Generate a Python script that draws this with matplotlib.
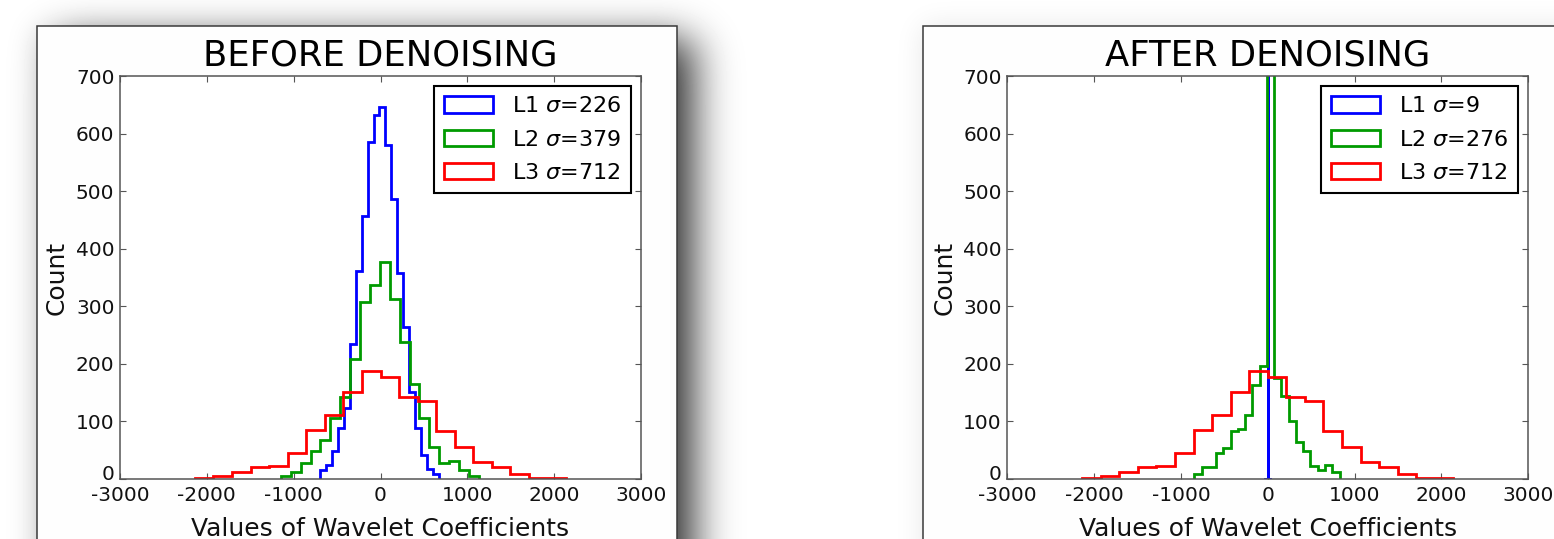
import math
import numpy as np
import matplotlib
matplotlib.use("Agg")
import matplotlib.pyplot as plt
import matplotlib.transforms as mtransforms
from matplotlib.patches import Rectangle

plt.rcParams['font.family'] = ['DejaVu Sans']
plt.rcParams['axes.unicode_minus'] = False
plt.rcParams['mathtext.fontset'] = 'dejavusans'

# histogram counts per level, 20 equal bins over each (lo, hi) range
l1_before = [15, 25, 48, 89, 123, 234, 362, 457, 586, 632,
             646, 581, 486, 358, 264, 152, 88, 42, 17, 9]
l1_before_range = (-692, 668)
l2_before = [5, 12, 27, 48, 68, 106, 143, 209, 307, 338,
             377, 313, 239, 166, 106, 56, 28, 31, 15, 5]
l2_before_range = (-1148, 1132)
l3_counts = [1, 6, 12, 20, 23, 45, 85, 112, 152, 187,
             178, 142, 135, 84, 56, 29, 20, 9, 1, 1]
l3_range = (-2137, 2137)

l1_after = [1, 0, 0, 0, 0, 0, 0, 0, 0, 3,
            5200, 3, 0, 0, 0, 0, 0, 0, 0, 1]
l1_after_range = (-30, 30)
l2_after = [8, 21, 21, 46, 54, 84, 87, 112, 164, 197,
            1194, 176, 145, 101, 65, 48, 23, 16, 25, 12]
l2_after_range = (-847, 826)

sigmas_before = [226, 379, 712]
sigmas_after = [9, 276, 712]
level_names = ['L1', 'L2', 'L3']
level_colors = ['#0000ff', '#009a00', '#ff0000']

x_ticks = [-3000, -2000, -1000, 0, 1000, 2000, 3000]
y_ticks = [0, 100, 200, 300, 400, 500, 600, 700]

W, H = 1554, 539
fig = plt.figure(figsize=(W / 100, H / 100), dpi=100)

# page background: soft halo round both cards, heavy drop shadow right of the first
erf = np.vectorize(math.erf)


def soft_box(x0, x1, y0, y1, s):
    xs = np.arange(W) + 0.5
    ys = np.arange(H) + 0.5
    fx = 0.5 * (erf((xs - x0) / (s * 1.414)) - erf((xs - x1) / (s * 1.414)))
    fy = 0.5 * (erf((ys - y0) / (s * 1.414)) - erf((ys - y1) / (s * 1.414)))
    return np.outer(fy, fx)


shade = np.ones((H, W))
shade -= 0.72 * soft_box(60, 696, 40, 900, 20)
shade -= 0.10 * soft_box(36, 677, 26, 900, 14)
shade -= 0.10 * soft_box(923, 1900, 26, 900, 14)
shade = np.clip(shade, 0, 1)

bg = fig.add_axes([0, 0, 1, 1])
bg.imshow(shade, cmap='gray', vmin=0, vmax=1, extent=(0, W, H, 0),
          aspect='auto', interpolation='bilinear')
for x0, x1 in [(36.5, 677), (922.7, 1700)]:
    bg.add_patch(Rectangle((x0, 25.7), x1 - x0, 600, facecolor='#fefefe',
                           edgecolor='#3a3a3a', linewidth=1.1))
bg.set_xlim(0, W)
bg.set_ylim(H, 0)
bg.axis('off')


def draw_panel(left_px, title, series, sigmas):
    ax = fig.add_axes([left_px / W, (H - 479) / H, 521 / W, 402.7 / H])
    for name, (counts, (lo, hi)), sig, col in zip(level_names, series,
                                                  sigmas, level_colors):
        edges = np.linspace(lo, hi, len(counts) + 1)
        ax.hist(edges[:-1], bins=edges, weights=counts, histtype='step',
                color=col, linewidth=2.0,
                label=name + r' $\sigma$=' + str(sig))
    ax.set_xlim(-3000, 3000)
    ax.set_ylim(0, 700)
    ax.set_xticks(x_ticks)
    ax.set_yticks(y_ticks)
    ax.tick_params(direction='in', top=True, right=True, length=4,
                   width=0.8, color='#555555', labelsize=14.5,
                   labelcolor='#111111')
    ax.tick_params(axis='x', pad=5)
    ax.tick_params(axis='y', pad=4)
    # lift the "0" count label clear of the x tick labels
    zero_lbl = ax.yaxis.get_major_ticks()[0].label1
    zero_lbl.set_transform(zero_lbl.get_transform() +
                           mtransforms.ScaledTranslation(0, 0.06,
                                                         fig.dpi_scale_trans))
    for sp in ax.spines.values():
        sp.set_color('#555555')
        sp.set_linewidth(1.1)
    ax.set_title(title, fontsize=25.5, pad=7.5, color='#000000')
    ax.set_xlabel('Values of Wavelet Coefficients', fontsize=18,
                  labelpad=9, color='#111111')
    ax.set_ylabel('Count', fontsize=18, labelpad=5, color='#111111')
    leg = ax.legend(loc='upper right', fontsize=16, handlelength=2.2,
                    handleheight=0.75, handletextpad=0.85, labelspacing=0.6,
                    borderpad=0.45, borderaxespad=0.45, fancybox=False,
                    framealpha=1, edgecolor='black')
    leg.get_frame().set_linewidth(1.5)
    return ax


draw_panel(120, 'BEFORE DENOISING',
           [(l1_before, l1_before_range), (l2_before, l2_before_range),
            (l3_counts, l3_range)], sigmas_before)
draw_panel(1007.3, 'AFTER DENOISING',
           [(l1_after, l1_after_range), (l2_after, l2_after_range),
            (l3_counts, l3_range)], sigmas_after)

fig.savefig('out.png', dpi=100)
